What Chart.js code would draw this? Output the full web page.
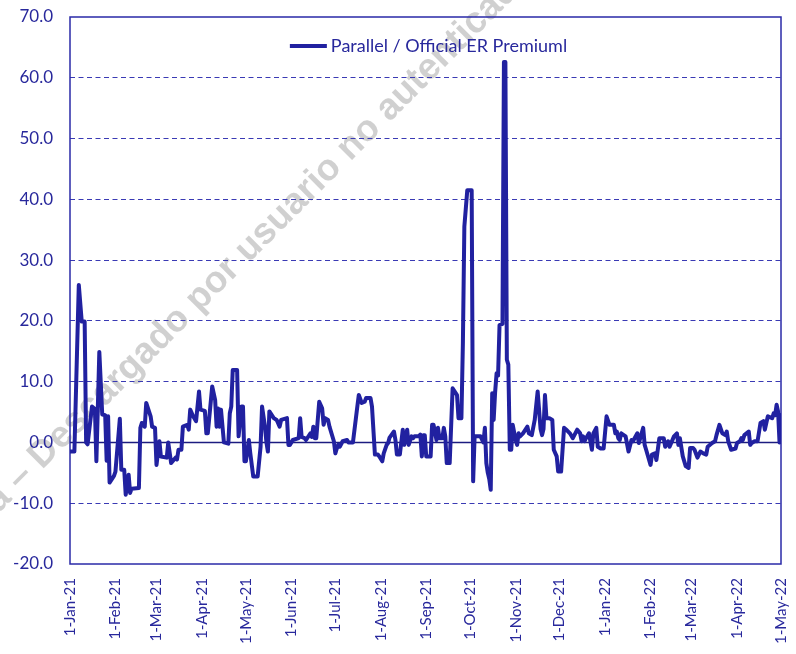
<!DOCTYPE html>
<html>
<head>
<meta charset="utf-8">
<script src="https://cdn.jsdelivr.net/npm/chart.js@4.4.1/dist/chart.umd.min.js"></script>
<style>
  html, body { margin: 0; padding: 0; background: #fff; }
  #wrap { width: 796px; height: 654px; }
</style>
</head>
<body>
<div id="wrap"><canvas id="premChart" width="796" height="654"></canvas></div>
<script>
// month-start tick labels (x axis)
const tickLabels = ['1-Jan-21', '1-Feb-21', '1-Mar-21', '1-Apr-21', '1-May-21', '1-Jun-21',
  '1-Jul-21', '1-Aug-21', '1-Sep-21', '1-Oct-21', '1-Nov-21', '1-Dec-21',
  '1-Jan-22', '1-Feb-22', '1-Mar-22', '1-Apr-22', '1-May-22'];
const yTicks = [-20, -10, 0, 10, 20, 30, 40, 50, 60, 70];

// series: days since 1-Jan-21 and the premium (%)
const dayIndex = [0, 3, 6, 8, 10, 11, 12, 15, 17, 18, 20, 22, 24, 25, 26, 27, 30, 31, 34, 35,
  37, 38, 40, 41, 42, 47, 48, 49, 51, 52, 55, 56, 58, 59, 61, 62, 66, 67, 69, 72,
  73, 74, 76, 77, 80, 81, 82, 84, 86, 88, 89, 92, 93, 94, 97, 99, 100, 101, 102, 103,
  105, 108, 109, 110, 111, 114, 115, 117, 118, 119, 120, 122, 123, 125, 128, 130, 131, 133, 134, 135,
  136, 139, 141, 143, 144, 148, 149, 150, 152, 156, 157, 158, 160, 161, 164, 165, 166, 167, 168, 170,
  172, 173, 174, 176, 177, 180, 181, 182, 183, 184, 186, 189, 190, 193, 196, 197, 199, 201, 202, 205,
  206, 208, 210, 211, 213, 214, 216, 217, 218, 221, 222, 223, 225, 227, 228, 230, 231, 233, 234, 235,
  238, 239, 240, 241, 242, 243, 246, 247, 248, 250, 251, 252, 254, 255, 256, 257, 259, 261, 264, 265,
  267, 268, 269, 271, 274, 275, 276, 280, 282, 283, 284, 285, 286, 287, 288, 289, 290, 291, 292, 293,
  295, 296, 297, 298, 299, 300, 301, 302, 304, 305, 306, 307, 309, 312, 313, 315, 317, 319, 321, 322,
  323, 324, 325, 327, 329, 330, 332, 333, 335, 337, 339, 341, 343, 346, 348, 349, 350, 351, 352, 354,
  356, 357, 359, 360, 362, 364, 366, 368, 371, 372, 373, 374, 375, 376, 379, 381, 383, 384, 387, 388,
  389, 391, 392, 393, 396, 397, 399, 400, 402, 405, 406, 408, 409, 412, 414, 415, 416, 418, 420, 422,
  423, 425, 426, 428, 430, 432, 434, 435, 438, 440, 441, 443, 445, 447, 448, 449, 451, 454, 455, 457,
  458, 459, 460, 463, 464, 465, 467, 469, 471, 473, 474, 476, 479, 480, 481, 482, 483, 484, 485];
const premium = [-1.5, -1.5, 25.9, 19.9, 19.9, 0, -0.3, 5.9, 5.5, -3.1, 14.9, 4.6, 4.5, -3.0, 4.3, -6.6, -5.5, -4.8, 3.9, -4.5,
  -4.5, -8.6, -5.3, -8.3, -7.6, -7.5, 2.4, 3.2, 2.6, 6.5, 4.3, 2.6, 2.4, -3.7, 0.2, -2.3, -2.5, 0, -3.4, -2.5,
  -2.8, -1.2, -1.2, 2.6, 2.9, 2.1, 5.4, 4.3, 3.5, 8.4, 5.4, 5.2, 1.5, 1.5, 9.2, 7.0, 2.6, 5.6, 2.6, 5.4,
  0, -0.2, 4.8, 5.9, 11.9, 11.9, 1.0, 5.9, 5.9, -3.1, -3.1, 0.4, -1.8, -5.6, -5.6, -0.7, 5.9, 2.6, 0, -1.5,
  5.1, 4.0, 3.7, 2.6, 3.7, 4.0, -0.4, -0.4, 0.4, 0.7, 4.0, 0.9, 0.7, 0.4, 1.5, 0.9, 2.6, 0.7, 0.7, 6.7,
  5.6, 2.9, 4.0, 3.7, 2.6, 0.2, -1.8, -1.0, -0.4, -0.7, 0.2, 0.4, 0, 0, 5.9, 7.8, 6.5, 6.7, 7.3, 7.3,
  5.9, -2.0, -2.0, -2.3, -3.1, -1.8, -0.4, -0.1, 0.8, 1.8, 0.4, -2.0, -2.0, 2.1, -0.4, 2.1, -0.4, 1.0, 0.7, 1.0,
  1.0, 1.3, -2.3, 1.2, 1.2, -2.3, -2.3, 2.9, 2.9, 0.4, 2.4, 0.7, 0.7, 2.4, 1.0, -3.4, -3.4, 8.9, 7.8, 4.0,
  4.0, 16.3, 35.5, 41.5, 41.5, -6.4, 1.0, 1.0, 0, 2.4, -3.4, -5.0, -6.0, -7.8, 8.1, 3.7, 8.3, 11.4, 11.0, 19.3,
  19.5, 62.6, 62.6, 13.6, 12.8, -1.2, -1.2, 2.9, 0.4, -0.4, 1.5, 1.0, 1.5, 2.6, 1.5, 1.2, 3.7, 8.4, 2.2, 1.2,
  2.2, 7.8, 4.0, 4.0, 3.7, -1.2, -2.3, -4.8, -4.8, 2.4, 2.0, 1.5, 0.7, 2.1, 1.5, 0.2, 1.0, 0.2, 0.7, 1.5,
  -1.2, 1.5, 2.4, -0.7, -1.0, -1.0, 4.3, 2.9, 2.9, 1.5, 1.8, 0.7, 0.4, 1.5, 1.0, -1.5, 0.4, 0.2, 1.5, -0.1,
  0.7, 2.4, -0.4, -1.2, -3.7, -2.0, -1.8, -2.9, 0.7, 0.7, -0.7, 0.2, -0.7, 1.0, 1.5, -0.4, 0.7, -2.3, -3.9, -4.2,
  -0.9, -0.9, -1.2, -2.5, -1.5, -1.8, -2.0, -0.7, -0.1, 0.2, 1.2, 2.9, 1.5, 1.2, 1.8, 0.2, -1.2, -1.0, -0.1, 0.2,
  0.7, 0.4, 1.2, 1.8, -0.4, -0.1, 0.2, 0.2, 3.2, 3.5, 2.1, 4.3, 4.0, 4.8, 4.5, 6.2, 5.1, 0, 4.5];

const seriesLabel = 'Parallel / Official ER Premiuml';
const watermark = ['Obra protegida – ', 'Descargado por usuario no autenticado'];

const monthNames = ['Jan', 'Feb', 'Mar', 'Apr', 'May', 'Jun', 'Jul', 'Aug', 'Sep', 'Oct', 'Nov', 'Dec'];
function labelToDay(lbl) {
  const p = lbl.split('-');
  return (Date.UTC(2000 + Number(p[2]), monthNames.indexOf(p[1]), Number(p[0])) - Date.UTC(2021, 0, 1)) / 86400000;
}
const tickDays = tickLabels.map(labelToDay);

const BLUE = '#2121a0';
const TXT = '#28289c';
const GRID = '#3a3ab4';
const FONT = 'Lato, "Open Sans", sans-serif';

const points = dayIndex.map((d, i) => ({ x: d, y: premium[i] }));

// watermark behind everything
const watermarkPlugin = {
  id: 'watermark',
  beforeDraw(chart) {
    const ctx = chart.ctx;
    ctx.save();
    ctx.translate(42, 470);
    ctx.rotate(-45 * Math.PI / 180);
    ctx.font = 'bold 37px "Liberation Sans", Arial, sans-serif';
    ctx.fillStyle = 'rgba(200,200,200,0.85)';
    ctx.textBaseline = 'alphabetic';
    ctx.textAlign = 'left';
    ctx.fillText(watermark[1], 0, 0);
    ctx.textAlign = 'right';
    ctx.fillText(watermark[0], 0, 0);
    ctx.restore();
  }
};

// plot frame + zero line
const framePlugin = {
  id: 'frame',
  beforeDatasetsDraw(chart) {
    const { ctx, chartArea: a, scales } = chart;
    ctx.save();
    ctx.strokeStyle = '#2a2aa8';
    ctx.lineWidth = 1.5;
    ctx.strokeRect(a.left, a.top, a.right - a.left, a.bottom - a.top);
    const y0 = scales.y.getPixelForValue(0);
    ctx.strokeStyle = '#1c1c80';
    ctx.lineWidth = 1.5;
    ctx.beginPath();
    ctx.moveTo(a.left, y0);
    ctx.lineTo(a.right, y0);
    ctx.stroke();
    ctx.restore();
  }
};

// legend drawn inside the plot area
const legendPlugin = {
  id: 'innerLegend',
  afterDatasetsDraw(chart) {
    const { ctx, chartArea: a } = chart;
    const ds = chart.data.datasets[0];
    ctx.save();
    ctx.font = '18px ' + FONT;
    const tw = ctx.measureText(ds.label).width;
    const lineW = 37, gap = 4;
    const total = lineW + gap + tw;
    const x0 = (a.left + a.right) / 2 - total / 2 + 3;
    const y = 46;
    ctx.strokeStyle = BLUE;
    ctx.lineWidth = 4;
    ctx.beginPath();
    ctx.moveTo(x0, y);
    ctx.lineTo(x0 + lineW, y);
    ctx.stroke();
    ctx.fillStyle = TXT;
    ctx.textBaseline = 'middle';
    ctx.fillText(ds.label, x0 + lineW + gap, y);
    ctx.restore();
  }
};

new Chart(document.getElementById('premChart'), {
  type: 'line',
  data: {
    datasets: [{
      label: seriesLabel,
      data: points,
      borderColor: BLUE,
      backgroundColor: BLUE,
      borderWidth: 4,
      pointRadius: 0,
      tension: 0,
      borderJoinStyle: 'round',
      borderCapStyle: 'round'
    }]
  },
  options: {
    responsive: false,
    animation: false,
    layout: { padding: { top: 17, right: 15, left: 0, bottom: 0 } },
    plugins: {
      legend: { display: false },
      tooltip: { enabled: false }
    },
    scales: {
      x: {
        type: 'linear',
        min: tickDays[0],
        max: tickDays[tickDays.length - 1],
        afterBuildTicks(scale) {
          scale.ticks = tickDays.map(v => ({ value: v }));
        },
        afterFit(scale) {
          scale.height = 90;
          scale.paddingLeft = 0;
          scale.paddingRight = 0;
        },
        grid: { display: false },
        border: { display: false },
        ticks: {
          autoSkip: false,
          minRotation: 90,
          maxRotation: 90,
          padding: 6,
          color: TXT,
          font: { family: FONT, size: 15 },
          callback(v) {
            const i = tickDays.indexOf(v);
            return i >= 0 ? tickLabels[i] : '';
          }
        }
      },
      y: {
        min: yTicks[0],
        max: yTicks[yTicks.length - 1],
        afterBuildTicks(scale) {
          scale.ticks = yTicks.map(v => ({ value: v }));
        },
        afterFit(scale) {
          scale.width = 70;
          scale.paddingTop = 0;
          scale.paddingBottom = 0;
        },
        border: { display: false, dash: [5, 3.5] },
        grid: {
          drawTicks: false,
          lineWidth: 1,
          color: ctx => (ctx.tick && (ctx.tick.value === 0 || ctx.tick.value === -20 || ctx.tick.value === 70)) ? 'rgba(0,0,0,0)' : GRID
        },
        ticks: {
          padding: 17,
          color: TXT,
          font: { family: FONT, size: 17 },
          callback: v => Number(v).toFixed(1)
        }
      }
    }
  },
  plugins: [watermarkPlugin, framePlugin, legendPlugin]
});
</script>
</body>
</html>
